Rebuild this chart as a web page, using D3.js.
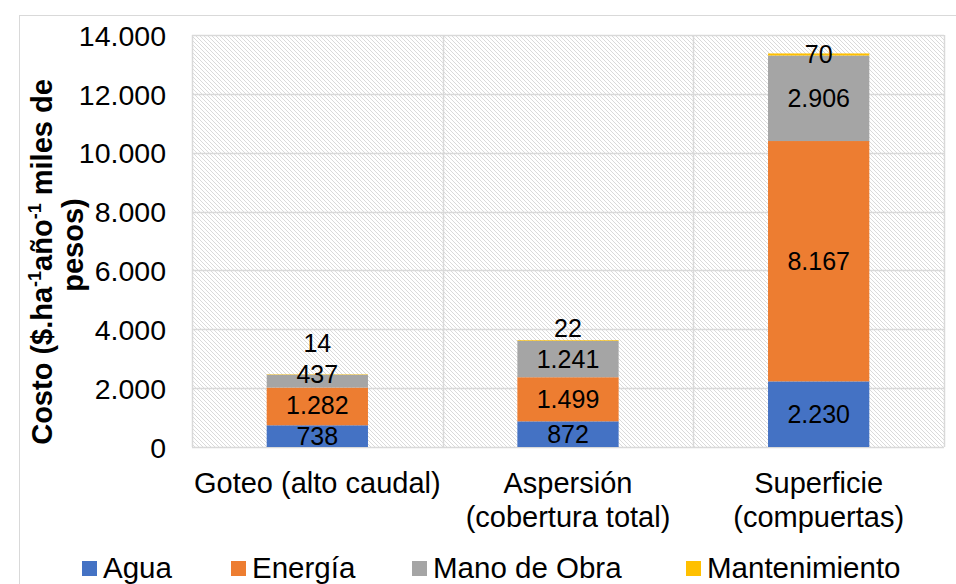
<!DOCTYPE html>
<html><head><meta charset="utf-8">
<script src="https://cdn.jsdelivr.net/npm/d3@7"></script>
<style>
html,body{margin:0;padding:0;background:#fff;}
svg{display:block;font-family:"Liberation Sans",Arial,sans-serif;}
</style></head>
<body>
<svg id="chart" width="956" height="584"></svg>
<script>
const categories = [["Goteo (alto caudal)"], ["Aspersión", "(cobertura total)"], ["Superficie", "(compuertas)"]];
const seriesNames = ["Agua", "Energía", "Mano de Obra", "Mantenimiento"];
const seriesColors = ["#4472C4", "#ED7D31", "#A5A5A5", "#FFC000"];
const agua = [738, 872, 2230];
const energia = [1282, 1499, 8167];
const manoObra = [437, 1241, 2906];
const mantenimiento = [14, 22, 70];
const yTicks = [0, 2000, 4000, 6000, 8000, 10000, 12000, 14000];

const seriesValues = [agua, energia, manoObra, mantenimiento];
const svg = d3.select("#chart");
const M = {left: 192, right: 944, top: 35, bottom: 447};
const fmt = v => d3.format(",")(v).replace(/,/g, ".");

// outer border
svg.append("rect").attr("x", 19.5).attr("y", 15.5).attr("width", 960).attr("height", 600)
  .attr("fill", "none").attr("stroke", "#d9d9d9").attr("stroke-width", 1);

// pattern
const defs = svg.append("defs");
const pat = defs.append("pattern").attr("id", "hatch").attr("patternUnits", "userSpaceOnUse")
  .attr("width", 4).attr("height", 4);
pat.append("rect").attr("width", 4).attr("height", 4).attr("fill", "#fff");
pat.append("path").attr("d", "M-1,-1 L5,5 M-1,3 L1,5 M3,-1 L5,1").attr("stroke", "#dadada").attr("stroke-width", 1);

const x = d3.scaleBand().domain(d3.range(categories.length)).range([M.left, M.right]).paddingInner(0).paddingOuter(0);
const y = d3.scaleLinear().domain([0, 14000]).range([M.bottom, M.top]);
const barW = x.bandwidth() * 0.404;

svg.append("rect").attr("x", M.left).attr("y", M.top).attr("width", M.right - M.left).attr("height", M.bottom - M.top)
  .attr("fill", "url(#hatch)");

// horizontal grid
svg.append("g").selectAll("line").data(yTicks).join("line")
  .attr("x1", M.left).attr("x2", M.right)
  .attr("y1", d => Math.round(y(d)) + 0.5).attr("y2", d => Math.round(y(d)) + 0.5)
  .attr("stroke", "#d9d9d9").attr("stroke-width", 1.5);
// vertical grid
const vx = d3.range(categories.length + 1).map(i => i < categories.length ? x(i) : M.right);
svg.append("g").selectAll("line").data(vx).join("line")
  .attr("x1", d => Math.round(d) + 0.5).attr("x2", d => Math.round(d) + 0.5)
  .attr("y1", M.top).attr("y2", M.bottom)
  .attr("stroke", "#d9d9d9").attr("stroke-width", 1.5);

// y axis labels
const yAxis = d3.axisLeft(y).tickValues(yTicks).tickFormat(fmt).tickSize(0).tickPadding(26);
const ga = svg.append("g").attr("transform", `translate(${M.left},0)`).call(yAxis);
ga.select(".domain").remove();
ga.selectAll("text").attr("font-size", 28.5).attr("fill", "#000").attr("font-family", "Liberation Sans, Arial, sans-serif").attr("dy", "0.36em");

// stacked data
const stackData = categories.map((c, i) => {
  const o = {i};
  seriesNames.forEach((s, k) => o[s] = seriesValues[k][i]);
  return o;
});
const stacked = d3.stack().keys(seriesNames)(stackData);

const gBars = svg.append("g");
stacked.forEach((layer, k) => {
  gBars.selectAll(null).data(layer).join("rect")
    .attr("x", d => x(d.data.i) + x.bandwidth() / 2 - barW / 2)
    .attr("width", barW)
    .attr("y", d => y(d[1]))
    .attr("height", d => y(d[0]) - y(d[1]))
    .attr("fill", seriesColors[k]);
});

// data labels, pushed up to avoid overlap
const gapMin = 31;
categories.forEach((c, i) => {
  let prev = Infinity;
  stacked.forEach((layer, k) => {
    const d = layer[i];
    let cy = (y(d[0]) + y(d[1])) / 2;
    if (cy > prev - gapMin) cy = prev - gapMin;
    prev = cy;
    svg.append("text")
      .attr("x", x(i) + x.bandwidth() / 2)
      .attr("y", cy)
      .attr("dy", "0.36em")
      .attr("text-anchor", "middle")
      .attr("font-size", 25)
      .attr("fill", "#000")
      .text(fmt(seriesValues[k][i]));
  });
});

// category labels
categories.forEach((lines, i) => {
  const t = svg.append("text").attr("x", x(i) + x.bandwidth() / 2).attr("y", 493)
    .attr("text-anchor", "middle").attr("font-size", 29).attr("fill", "#000");
  lines.forEach((l, j) => t.append("tspan").attr("x", x(i) + x.bandwidth() / 2).attr("y", 493 + j * 34).text(l));
});

// y axis title
const t1 = svg.append("text").attr("transform", "translate(52,262) rotate(-90)")
  .attr("text-anchor", "middle").attr("font-size", 29).attr("font-weight", "bold").attr("fill", "#000");
t1.append("tspan").text("Costo ($.ha");
t1.append("tspan").attr("font-size", 18).attr("dy", -11).text("-1");
t1.append("tspan").attr("dy", 11).text("año");
t1.append("tspan").attr("font-size", 18).attr("dy", -11).text("-1");
t1.append("tspan").attr("dy", 11).text(" miles de");
svg.append("text").attr("transform", "translate(83,245) rotate(-90)")
  .attr("text-anchor", "middle").attr("font-size", 29).attr("font-weight", "bold").attr("fill", "#000")
  .text("pesos)");

// legend
const legendX = [82, 231, 412, 686];
const lg = svg.append("g");
seriesNames.forEach((s, k) => {
  lg.append("rect").attr("x", legendX[k]).attr("y", 561).attr("width", 15).attr("height", 15).attr("fill", seriesColors[k]);
  lg.append("text").attr("x", legendX[k] + 21).attr("y", 578).attr("font-size", 29.5).attr("fill", "#000").text(s);
});
</script>
</body></html>
